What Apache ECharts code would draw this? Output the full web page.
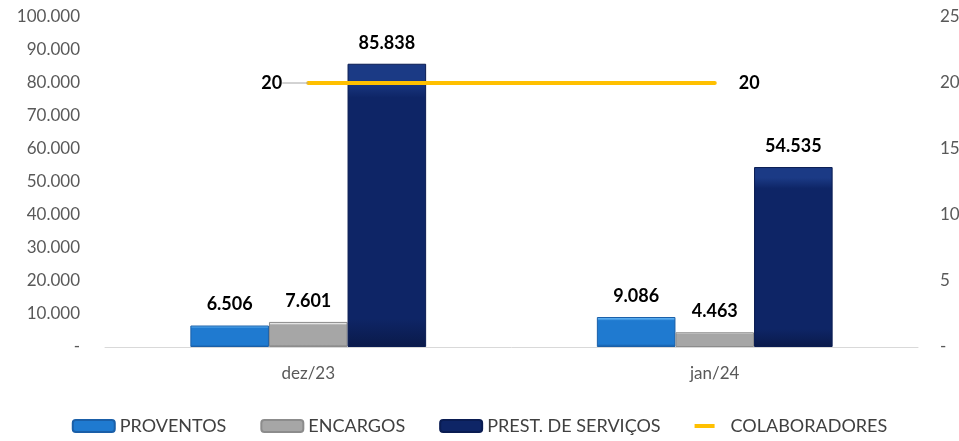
<!DOCTYPE html>
<html><head><meta charset="utf-8">
<script src="https://cdn.jsdelivr.net/npm/echarts@6/dist/echarts.min.js"></script>
<style>html,body{margin:0;padding:0;background:#fff}#c{width:959px;height:441px}</style>
</head><body><div id="c"></div>
<script>
var categories = ['dez/23', 'jan/24'];
var proventos = [6506, 9086];
var encargos = [7601, 4463];
var prestServicos = [85838, 54535];
var colaboradores = [20, 20];
var seriesNames = ['PROVENTOS', 'ENCARGOS', 'PREST. DE SERVIÇOS', 'COLABORADORES'];

var FONT = 'Lato, "Open Sans", sans-serif';
function fmt(v){ if(v===0) return '-'; return String(v).replace(/\B(?=(\d{3})+(?!\d))/g, '.'); }
function vgrad(light, mid, dark){
  return new echarts.graphic.LinearGradient(0,0,0,1,[
    {offset:0,color:light},{offset:0.06,color:light},{offset:0.12,color:mid},{offset:0.9,color:mid},{offset:1,color:dark}]);
}
var barLabel = {show:true, position:'top', distance:12, color:'#000', fontWeight:'bold', fontSize:18, fontFamily:FONT, formatter:function(p){return fmt(p.value);}};
var lineIcon = 'path://M0,0h0.05v0.05h-0.05z M0,8h40v8h-40z M39.95,23.95h0.05v0.05h-0.05z';

var lineData = colaboradores.map(function(v, i){
  return {value:v, label:{position: i===0 ? 'left' : 'right'}, labelLine:{show: i===0}};
});

var chart = echarts.init(document.getElementById('c'));
chart.setOption({
  animation:false,
  textStyle:{fontFamily:FONT},
  grid:{left:105, right:41, top:17, bottom:94, containLabel:false, outerBoundsMode:'none'},
  legend:{
    bottom:1, left:'center', itemWidth:42, itemHeight:12, itemGap:34,
    textStyle:{color:'#404040', fontSize:18, fontFamily:FONT},
    data:[seriesNames[0], seriesNames[1], seriesNames[2], {name:seriesNames[3], icon:lineIcon}]
  },
  xAxis:{type:'category', data:categories,
    axisLine:{lineStyle:{color:'#D9D9D9'}}, axisTick:{show:false},
    axisLabel:{color:'#595959', fontSize:17, margin:18}},
  yAxis:[
    {type:'value', min:0, max:100000, interval:10000, splitLine:{show:false},
     axisLine:{show:false}, axisTick:{show:false},
     axisLabel:{color:'#595959', fontSize:17, margin:25, formatter:fmt}},
    {type:'value', min:0, max:25, interval:5, splitLine:{show:false},
     axisLine:{show:false}, axisTick:{show:false},
     axisLabel:{color:'#595959', fontSize:17, margin:22, align:'left', formatter:fmt}}
  ],
  series:[
    {name:seriesNames[0], type:'bar', data:proventos, barGap:'0%', barCategoryGap:'42%',
     itemStyle:{color:vgrad('#5BAEF0','#1F7AD0','#14559A'), borderColor:'#1A5FA8', borderWidth:1}, label:barLabel},
    {name:seriesNames[1], type:'bar', data:encargos,
     itemStyle:{color:vgrad('#E6E6E6','#A6A6A6','#7A7A7A'), borderColor:'#8C8C8C', borderWidth:1}, label:barLabel},
    {name:seriesNames[2], type:'bar', data:prestServicos,
     itemStyle:{color:vgrad('#1B3A85','#0E2566','#0A1A4A'), borderColor:'#0A1C52', borderWidth:1}, label:barLabel},
    {name:seriesNames[3], type:'line', yAxisIndex:1, data:lineData, symbol:'circle', symbolSize:0.01, showSymbol:true,
     lineStyle:{color:'#FFC000', width:4, cap:'round'}, itemStyle:{color:'#FFC000'},
     label:{show:true, color:'#000', fontWeight:'bold', fontSize:18, fontFamily:FONT, distance:24},
     labelLayout:function(p){ if(p.dataIndex===0){ return {dx:-2}; } return {}; },
     labelLine:{show:true, length2:0, lineStyle:{color:'#A6A6A6', width:1}}
    }
  ]
});
</script></body></html>
